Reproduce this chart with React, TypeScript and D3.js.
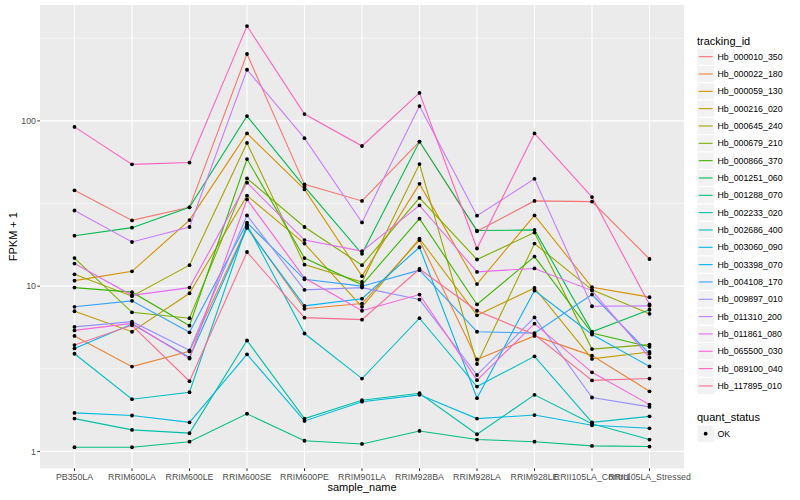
import * as d3 from "d3";
import React from "react";

// x categories
const samples = [
  "PB350LA", "RRIM600LA", "RRIM600LE", "RRIM600SE", "RRIM600PE", "RRIM901LA",
  "RRIM928BA", "RRIM928LA", "RRIM928LE", "RRII105LA_Control", "RRII105LA_Stressed",
];

// FPKM + 1 per gene, one value per sample
const hb000010_350 = [38, 25, 30, 254, 41.3, 32.8, 75, 21.5, 32.8, 32.5, 14.6];
const hb000022_180 = [5.0, 3.26, 4.03, 22.9, 7.3, 7.85, 19.0, 3.6, 5.0, 3.8, 2.31];
const hb000059_130 = [10.8, 12.3, 25.1, 84, 38.5, 11.5, 41.6, 10.3, 26.8, 9.85, 8.58];
const hb000216_020 = [7.05, 5.3, 9.06, 35.3, 18.1, 7.5, 19.4, 6.66, 9.75, 3.63, 4.0];
const hb000645_240 = [11.8, 8.7, 13.4, 73.6, 13.5, 10.6, 54.8, 3.38, 18.1, 9.5, 6.8];
const hb000679_210 = [14.8, 6.95, 6.4, 44.9, 22.8, 13.4, 34.2, 14.5, 21.1, 4.16, 4.43];
const hb000866_370 = [9.8, 9.2, 5.77, 58.8, 14.8, 10.2, 25.6, 7.75, 15.1, 5.2, 4.3];
const hb001251_060 = [20.2, 22.6, 30, 107, 40, 15.7, 75, 21.7, 21.9, 5.3, 7.2];
const hb001288_070 = [1.06, 1.06, 1.145, 1.69, 1.16, 1.11, 1.33, 1.18, 1.145, 1.08, 1.07];
const hb002233_020 = [1.58, 1.35, 1.29, 4.69, 1.58, 2.04, 2.25, 1.27, 2.2, 1.47, 1.18];
const hb002686_400 = [3.9, 2.07, 2.28, 23.5, 5.17, 2.76, 6.4, 2.47, 3.76, 1.5, 1.63];
const hb003060_090 = [1.71, 1.65, 1.5, 3.87, 1.53, 2.0, 2.2, 1.58, 1.66, 1.44, 1.38];
const hb003398_070 = [4.2, 5.9, 3.7, 22.5, 7.6, 8.4, 17.2, 2.1, 9.4, 5.1, 3.27];
const hb004108_170 = [7.5, 8.15, 5.26, 24.2, 11.0, 10.0, 12.5, 5.3, 5.2, 8.9, 3.9];
const hb009897_010 = [5.67, 6.1, 4.09, 26.8, 9.5, 9.8, 8.3, 2.9, 6.47, 2.12, 1.86];
const hb011310_200 = [28.7, 18.5, 22.8, 204, 78.6, 24.3, 123, 26.7, 44.6, 7.56, 7.6];
const hb011861_080 = [13.7, 8.8, 9.8, 42.3, 19.0, 16.3, 30.8, 12.2, 12.8, 9.4, 3.7];
const hb065500_030 = [5.4, 5.95, 3.65, 33.5, 11.2, 7.1, 8.9, 2.7, 5.93, 3.01, 1.92];
const hb089100_040 = [92, 54.6, 56, 375, 110, 70.5, 147.7, 16.9, 84, 34.6, 7.75];
const hb117895_010 = [4.4, 5.8, 2.66, 16.1, 6.45, 6.27, 12.7, 7.1, 5.1, 2.69, 2.76];

const trackingIds = [
  "Hb_000010_350", "Hb_000022_180", "Hb_000059_130", "Hb_000216_020", "Hb_000645_240",
  "Hb_000679_210", "Hb_000866_370", "Hb_001251_060", "Hb_001288_070", "Hb_002233_020",
  "Hb_002686_400", "Hb_003060_090", "Hb_003398_070", "Hb_004108_170", "Hb_009897_010",
  "Hb_011310_200", "Hb_011861_080", "Hb_065500_030", "Hb_089100_040", "Hb_117895_010",
];
const seriesValues = [
  hb000010_350, hb000022_180, hb000059_130, hb000216_020, hb000645_240,
  hb000679_210, hb000866_370, hb001251_060, hb001288_070, hb002233_020,
  hb002686_400, hb003060_090, hb003398_070, hb004108_170, hb009897_010,
  hb011310_200, hb011861_080, hb065500_030, hb089100_040, hb117895_010,
];

// ggplot hue_pal()(20)
const palette = [
  "#F8766D", "#EA8331", "#D89000", "#C09B00", "#A3A500", "#7CAE00", "#39B600", "#00BB4E",
  "#00BF7D", "#00C1A3", "#00BFC4", "#00BAE0", "#00B0F6", "#35A2FF", "#9590FF", "#C77CFF",
  "#E76BF3", "#FA62DB", "#FF62BC", "#FF6C91",
];

const yTicks = [1, 10, 100];
const yMinor = [Math.sqrt(10), Math.sqrt(1000), Math.sqrt(100000)];

const W = 800, H = 500;
const panel = { left: 40, right: 684, top: 5, bottom: 468.3 };
const font = "'Liberation Sans', Arial, Helvetica, sans-serif";

export default function App() {
  const all = seriesValues.flat();
  const lo = Math.log10(d3.min(all) as number);
  const hi = Math.log10(d3.max(all) as number);
  const pad = (hi - lo) * 0.05;

  const x = d3.scalePoint<string>().domain(samples).range([panel.left, panel.right]).padding(0.6);
  const y = d3.scaleLog().domain([10 ** (lo - pad), 10 ** (hi + pad)]).range([panel.bottom, panel.top]);

  const line = d3.line<number>()
    .x((_, i) => x(samples[i]) as number)
    .y(d => y(d));

  const legendX = 697;
  const keyH = 17.33;
  const keyTop = 48;

  return (
    <svg width={W} height={H} style={{ position: "absolute", left: 0, top: 0, background: "#fff" }} fontFamily={font}>
      <rect x={panel.left} y={panel.top} width={panel.right - panel.left} height={panel.bottom - panel.top} fill="#EBEBEB" />
      {yMinor.map(t => (
        <line key={"m" + t} x1={panel.left} x2={panel.right} y1={y(t)} y2={y(t)} stroke="#fff" strokeWidth={0.55} />
      ))}
      {yTicks.map(t => (
        <line key={"g" + t} x1={panel.left} x2={panel.right} y1={y(t)} y2={y(t)} stroke="#fff" strokeWidth={1.1} />
      ))}
      {samples.map(s => (
        <line key={"v" + s} x1={x(s)} x2={x(s)} y1={panel.top} y2={panel.bottom} stroke="#fff" strokeWidth={1.1} />
      ))}

      {seriesValues.map((vals, i) => (
        <path key={trackingIds[i]} d={line(vals) as string} fill="none" stroke={palette[i]} strokeWidth={1.1} />
      ))}
      {seriesValues.map((vals, i) =>
        vals.map((v, j) => (
          <circle key={trackingIds[i] + j} cx={x(samples[j])} cy={y(v)} r={1.9} fill="#000" />
        ))
      )}

      {/* y axis */}
      {yTicks.map(t => (
        <g key={"yt" + t}>
          <line x1={panel.left - 2.7} x2={panel.left} y1={y(t)} y2={y(t)} stroke="#333" strokeWidth={1} />
          <text x={panel.left - 4} y={y(t)} dy="0.35em" textAnchor="end" fontSize={8.8} fill="#4D4D4D">{t}</text>
        </g>
      ))}
      {/* x axis */}
      {samples.map(s => (
        <g key={"xt" + s}>
          <line x1={x(s)} x2={x(s)} y1={panel.bottom} y2={panel.bottom + 2.7} stroke="#333" strokeWidth={1} />
          <text x={x(s)} y={panel.bottom + 12} textAnchor="middle" fontSize={8.8} fill="#4D4D4D">{s}</text>
        </g>
      ))}
      <text x={(panel.left + panel.right) / 2} y={491} textAnchor="middle" fontSize={11} fill="#000">sample_name</text>
      <text transform={`translate(17,${(panel.top + panel.bottom) / 2}) rotate(-90)`} textAnchor="middle" fontSize={11} fill="#000">FPKM + 1</text>

      {/* legend: tracking_id */}
      <text x={legendX} y={44.5} fontSize={11} fill="#000">tracking_id</text>
      {trackingIds.map((id, i) => {
        const top = keyTop + i * keyH;
        return (
          <g key={"lg" + id}>
            <rect x={legendX} y={top} width={17.3} height={keyH} fill="#F2F2F2" stroke="#fff" strokeWidth={1} />
            <line x1={legendX + 1.7} x2={legendX + 15.6} y1={top + keyH / 2} y2={top + keyH / 2} stroke={palette[i]} strokeWidth={1.1} />
            <text x={legendX + 20.5} y={top + keyH / 2} dy="0.35em" fontSize={8.8} fill="#000">{id}</text>
          </g>
        );
      })}

      {/* legend: quant_status */}
      <text x={legendX} y={421} fontSize={11} fill="#000">quant_status</text>
      <rect x={legendX} y={425} width={17.3} height={keyH} fill="#F2F2F2" stroke="#fff" strokeWidth={1} />
      <circle cx={legendX + 8.65} cy={425 + keyH / 2} r={1.9} fill="#000" />
      <text x={legendX + 20.5} y={425 + keyH / 2} dy="0.35em" fontSize={8.8} fill="#000">OK</text>
    </svg>
  );
}
